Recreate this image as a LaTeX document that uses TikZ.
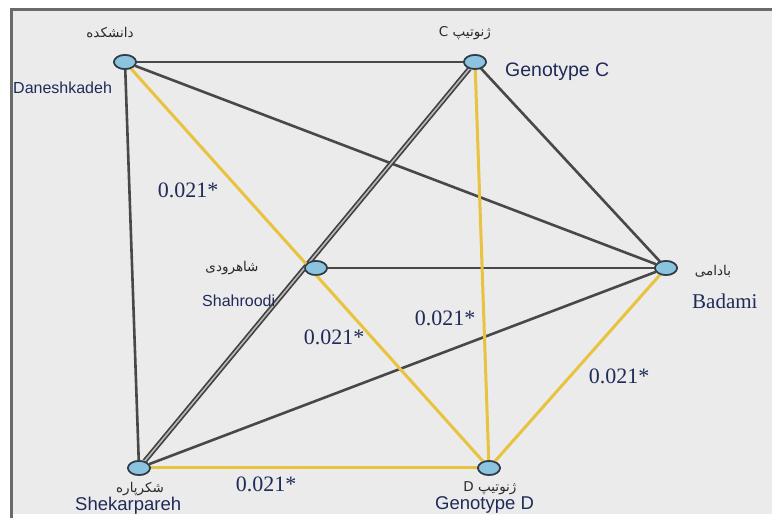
\documentclass[tikz,border=0pt]{standalone}
\usepackage{fontspec}
\setmainfont{Liberation Serif}
\setsansfont{Liberation Sans}
\newfontfamily\arabicfont[Script=Arabic]{DejaVu Sans}
\TeXXeTstate=1
\definecolor{bgc}{HTML}{EBEBEB}
\definecolor{framec}{HTML}{6A6A6A}
\definecolor{edgec}{HTML}{484848}
\definecolor{yel}{HTML}{E9C23F}
\definecolor{nodefill}{HTML}{8CC3DE}
\definecolor{nodeline}{HTML}{2E3B48}
\definecolor{numc}{HTML}{1F2B58}
\definecolor{fac}{HTML}{2A2A2A}
\usetikzlibrary{shapes.geometric}
\tikzset{
  vert/.style={ellipse, draw=nodeline, line width=1.6pt, fill=nodefill, minimum width=22pt, minimum height=14pt, inner sep=0pt},
  darkedge/.style={draw=edgec, line width=2.6pt},
  dbledge/.style={draw=edgec!90!black, line width=1.7pt, double=gray!55, double distance=1.6pt},
  yeledge/.style={draw=yel, line width=3pt},
  numlab/.style={text=numc, font=\fontsize{22}{24}\selectfont, inner sep=0pt},
  falab/.style={text=fac, font=\arabicfont\fontsize{13.5}{15}\selectfont, inner sep=0pt},
  enlab/.style={text=numc, inner sep=0pt, anchor=west},
}
\begin{document}
\begin{tikzpicture}[x=1pt,y=-1pt]
\useasboundingbox (0,0) rectangle (772,518);
\fill[white] (0,0) rectangle (772,518);
\fill[bgc] (10,9) rectangle (772,514);
\draw[framec, line width=3pt] (11,518) -- (11,10) -- (772,10);
% nodes
\node[vert] (dan) at (125,62) {};
\node[vert] (gc) at (475,62) {};
\node[vert] (sha) at (316,268) {};
\node[vert] (bad) at (666,268) {};
\node[vert] (she) at (139,468) {};
\node[vert] (gd) at (489,468) {};
% edges
\path[darkedge] (dan) -- (gc);
\path[darkedge] (dan) -- (bad);
\path[darkedge] (dan) -- (she);
\path[darkedge] (gc) -- (bad);
\path[darkedge] (sha) -- (bad);
\path[darkedge] (bad) -- (she);
\path[dbledge] (gc) -- (she);
\path[yeledge] (dan) -- (gd);
\path[yeledge] (gc) -- (gd);
\path[yeledge] (bad) -- (gd);
\path[yeledge] (she) -- (gd);
% redraw nodes on top
\node[vert] at (dan) {};
\node[vert] at (gc) {};
\node[vert] at (sha) {};
\node[vert] at (bad) {};
\node[vert] at (she) {};
\node[vert] at (gd) {};
% Persian labels
\node[falab] (fdan) at (110,33) {\beginR دانشکده\endR};
\node[falab] (fgc) at (465,33) {\beginR ژنوتیپ C\endR};
\node[falab] (fsha) at (232,268) {\beginR شاهرودی\endR};
\node[falab] (fbad) at (713,271) {\beginR بادامی\endR};
\node[falab] (fshe) at (140,489) {\beginR شکرپاره\endR};
\node[falab] (fgd) at (490,488) {\beginR ژنوتیپ D\endR};
% English labels
\node[enlab, font=\sffamily\fontsize{16}{18}\selectfont] (edan) at (13,88) {Daneshkadeh};
\node[enlab, font=\sffamily\fontsize{19.5}{21}\selectfont] (egc) at (505,72) {Genotype C};
\node[enlab, font=\sffamily\fontsize{16}{18}\selectfont] (esha) at (202,301) {Shahroodi};
\node[enlab, font=\rmfamily\fontsize{21}{23}\selectfont] (ebad) at (692,301) {Badami};
\node[enlab, font=\sffamily\fontsize{18.5}{20}\selectfont] (eshe) at (75,506) {Shekarpareh};
\node[enlab, font=\sffamily\fontsize{18.5}{20}\selectfont] (egd) at (435,505) {Genotype D};
% weights
\node[numlab] (w1) at (188,190) {0.021*};
\node[numlab] (w2) at (334,337) {0.021*};
\node[numlab] (w3) at (445,318) {0.021*};
\node[numlab] (w4) at (619,376) {0.021*};
\node[numlab] (w5) at (266,484) {0.021*};
\end{tikzpicture}
\end{document}
